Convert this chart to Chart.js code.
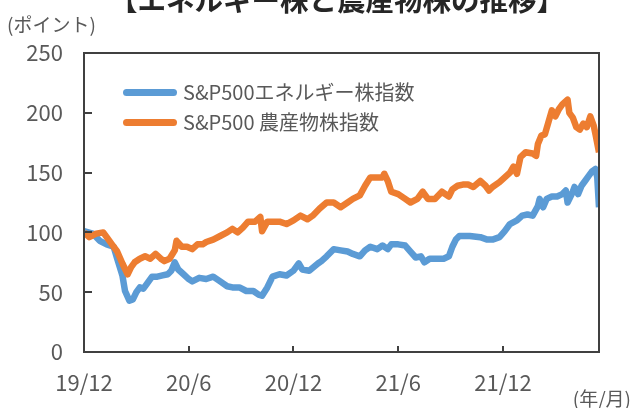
<!DOCTYPE html>
<html>
<head>
<meta charset="utf-8">
<script src="https://cdn.jsdelivr.net/npm/chart.js@4"></script>
<style>
    body { margin: 0; background: #fff; }
    #wrap { position: relative; width: 632px; height: 408px; overflow: hidden; font-family: "Noto Sans CJK JP", "Noto Sans", sans-serif; color: #595959; }
    #title { position: absolute; left: 0; width: 674px; top: -17px; text-align: center; font-size: 28.5px; font-weight: bold; color: #262626; line-height: 32px; }
    #unit-y { position: absolute; left: 7px; top: 10px; font-size: 19px; }
    #unit-x { position: absolute; right: 1px; top: 384px; font-size: 19px; }
    .leg { position: absolute; left: 123px; font-size: 20px; line-height: 24px; }
    .leg span { display: inline-block; width: 54px; height: 7px; border-radius: 4px; vertical-align: middle; margin-right: 6px; position: relative; top: -2px; }
    canvas { position: absolute; left: 0; top: 0; }
</style>
</head>
<body>
<div id="wrap">
    <canvas id="line-chart" width="632" height="408"></canvas>
    <div id="title">【エネルギー株と農産物株の推移】</div>
    <div id="unit-y">(ポイント)</div>
    <div id="unit-x">(年/月)</div>
    <div class="leg" id="leg-energy" style="top:80px"><span style="background:#5B9BD5"></span>S&amp;P500エネルギー株指数</div>
    <div class="leg" id="leg-agri" style="top:110px"><span style="background:#ED7D31"></span>S&amp;P500 農産物株指数</div>
</div>
<script>
// months counted from 19/12
var xTickMonths = [0, 6, 12, 18, 24];
var xTickLabels = ['19/12', '20/6', '20/12', '21/6', '21/12'];
var yTicks = [0, 50, 100, 150, 200, 250];

var energyLabel = 'S&P500エネルギー株指数';
var energyMonths = [0, 0.5, 0.9, 1.3, 1.7, 1.9, 2.2, 2.35, 2.6, 2.8, 3.0, 3.2, 3.4, 3.6, 3.9, 4.2, 4.5, 4.8, 5.0, 5.2, 5.4, 5.7, 6.0, 6.2, 6.6, 7.0, 7.4, 7.8, 8.2, 8.5, 8.9, 9.3, 9.7, 10.0, 10.2, 10.5, 10.8, 11.2, 11.6, 12.0, 12.3, 12.5, 12.9, 13.4, 13.6, 13.9, 14.3, 14.7, 15.1, 15.4, 15.8, 16.1, 16.4, 16.8, 17.1, 17.4, 17.6, 18.0, 18.4, 18.7, 19.0, 19.3, 19.5, 19.8, 20.2, 20.6, 20.9, 21.1, 21.3, 21.5, 22.1, 22.7, 23.1, 23.4, 23.8, 24.1, 24.4, 24.8, 25.1, 25.4, 25.7, 26.0, 26.1, 26.3, 26.5, 26.8, 27.1, 27.4, 27.6, 27.7, 28.0, 28.1, 28.3, 28.5, 28.7, 28.9, 29.1, 29.3, 29.4, 29.5];
var energyValues = [101, 99, 93, 90, 88, 78, 64, 51, 43, 44, 50, 54, 53, 57, 63, 63, 64, 65, 68, 75, 69, 65, 61, 59, 62, 61, 63, 59, 55, 54, 54, 51, 51, 48, 47, 54, 63, 65, 64, 68, 74, 69, 68, 74, 76, 80, 86, 85, 84, 82, 80, 85, 88, 86, 89, 86, 90, 90, 89, 84, 79, 80, 75, 78, 78, 78, 80, 88, 94, 97, 97, 96, 94, 94, 96, 101, 107, 110, 114, 115, 114, 122, 128, 121, 128, 130, 130, 132, 135, 125, 134, 138, 132, 139, 143, 147, 151, 153, 146, 121];

var agriLabel = 'S&P500 農産物株指数';
var agriMonths = [0, 0.3, 0.7, 1.1, 1.3, 1.6, 1.9, 2.2, 2.5, 2.7, 2.9, 3.2, 3.5, 3.8, 4.1, 4.4, 4.6, 4.9, 5.2, 5.3, 5.6, 5.9, 6.2, 6.5, 6.8, 7.0, 7.4, 7.8, 8.2, 8.5, 8.8, 9.1, 9.4, 9.8, 10.1, 10.2, 10.5, 10.8, 11.2, 11.6, 12.0, 12.4, 12.8, 13.1, 13.5, 13.9, 14.3, 14.7, 15.1, 15.4, 15.8, 16.1, 16.4, 16.8, 17.1, 17.2, 17.4, 17.6, 18.0, 18.4, 18.7, 19.1, 19.4, 19.7, 20.1, 20.5, 20.9, 21.1, 21.4, 21.7, 22.0, 22.3, 22.7, 23.0, 23.2, 23.4, 23.8, 24.1, 24.4, 24.6, 24.8, 25.0, 25.3, 25.7, 25.9, 26.0, 26.2, 26.4, 26.6, 26.8, 27.0, 27.2, 27.4, 27.7, 27.8, 28.0, 28.2, 28.4, 28.6, 28.8, 29.0, 29.2, 29.3, 29.5];
var agriValues = [100, 96, 99, 100, 96, 90, 84, 74, 65, 71, 75, 78, 80, 78, 82, 78, 76, 78, 85, 93, 88, 88, 86, 90, 90, 92, 94, 97, 100, 103, 100, 104, 109, 109, 113, 101, 109, 109, 109, 107, 110, 114, 111, 114, 120, 125, 125, 121, 125, 128, 131, 139, 146, 146, 146, 149, 143, 134, 132, 128, 125, 128, 134, 128, 128, 134, 130, 136, 139, 140, 140, 138, 143, 139, 135, 138, 142, 146, 150, 155, 149, 163, 167, 166, 164, 174, 181, 182, 192, 202, 197, 203, 207, 211, 200, 196, 188, 186, 191, 188, 197, 189, 182, 167];

function toPoints(months, values) { // pairs month offsets with values
    var pts = [];
    for (var i = 0; i < months.length; i++) {
        pts.push({ x: months[i], y: values[i] });
    }
    return pts;
}

var framePlugin = { // box around the plot and inward tick marks
    id: 'frame',
    afterDraw: function (chart) {
        var ctx = chart.ctx;
        var a = chart.chartArea;
        var xs = chart.scales.x;
        var ys = chart.scales.y;
        ctx.save();
        ctx.strokeStyle = '#404040';
        ctx.lineWidth = 2;
        ctx.strokeRect(a.left, a.top, a.right - a.left, a.bottom - a.top);
        ctx.beginPath();
        for (var i = 1; i < xTickMonths.length; i++) {
            var px = Math.round(xs.getPixelForValue(xTickMonths[i]));
            ctx.moveTo(px, a.bottom);
            ctx.lineTo(px, a.bottom - 6);
        }
        for (var j = 1; j < yTicks.length - 1; j++) {
            var py = Math.round(ys.getPixelForValue(yTicks[j]));
            ctx.moveTo(a.left, py);
            ctx.lineTo(a.left + 8, py);
        }
        ctx.stroke();
        ctx.restore();
    }
};

var ctx = document.getElementById('line-chart');
var chart = new Chart(ctx, {
    type: 'line',
    data: {
        datasets: [{
            label: energyLabel,
            data: toPoints(energyMonths, energyValues),
            borderColor: '#5B9BD5',
            borderWidth: 6.5,
            pointRadius: 0,
            tension: 0,
            borderJoinStyle: 'round',
            order: 1
        }, {
            label: agriLabel,
            data: toPoints(agriMonths, agriValues),
            borderColor: '#ED7D31',
            borderWidth: 6.5,
            pointRadius: 0,
            tension: 0,
            borderJoinStyle: 'round',
            order: 0
        }]
    },
    options: {
        responsive: false,
        animation: false,
        layout: { padding: { top: 53, right: 33, left: 0, bottom: 0 } },
        plugins: { legend: { display: false }, tooltip: { enabled: false } },
        scales: {
            x: {
                type: 'linear',
                min: 0,
                max: 29.5,
                grid: { display: false, drawTicks: false },
                border: { display: false },
                afterBuildTicks: function (scale) {
                    scale.ticks = xTickMonths.map(function (v) { return { value: v }; });
                },
                afterFit: function (scale) { scale.height = 56; },
                ticks: {
                    autoSkip: false,
                    maxRotation: 0,
                    padding: 17,
                    color: '#595959',
                    font: { family: '"Noto Sans CJK JP", sans-serif', size: 22 },
                    callback: function (value) {
                        var k = xTickMonths.indexOf(value);
                        return k >= 0 ? xTickLabels[k] : '';
                    }
                }
            },
            y: {
                min: 0,
                max: 250,
                grid: { display: false, drawTicks: false },
                border: { display: false },
                afterBuildTicks: function (scale) {
                    scale.ticks = yTicks.map(function (v) { return { value: v }; });
                },
                afterFit: function (scale) { scale.width = 84; },
                ticks: {
                    padding: 21,
                    color: '#595959',
                    font: { family: '"Noto Sans CJK JP", sans-serif', size: 22 }
                }
            }
        }
    },
    plugins: [framePlugin]
});
</script>
</body>
</html>
